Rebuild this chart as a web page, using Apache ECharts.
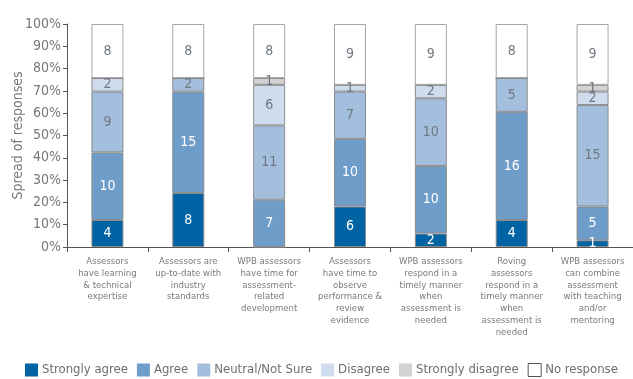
<!DOCTYPE html>
<html>
<head>
<meta charset="utf-8">
<script src="https://cdn.jsdelivr.net/npm/echarts@6/dist/echarts.min.js"></script>
<style>
  html, body { margin: 0; padding: 0; background: #fff; }
  #chart { width: 633px; height: 379px; }
</style>
</head>
<body>
<div id="chart"></div>
<script>
const categories = [
  "Assessors\nhave learning\n& technical\nexpertise",
  "Assessors are\nup-to-date with\nindustry\nstandards",
  "WPB assessors\nhave time for\nassessment-\nrelated\ndevelopment",
  "Assessors\nhave time to\nobserve\nperformance &\nreview\nevidence",
  "WPB assessors\nrespond in a\ntimely manner\nwhen\nassessment is\nneeded",
  "Roving\nassessors\nrespond in a\ntimely manner\nwhen\nassessment is\nneeded",
  "WPB assessors\ncan combine\nassessment\nwith teaching\nand/or\nmentoring"
];
const stronglyAgree = [4, 8, 0, 6, 2, 4, 1];
const agree = [10, 15, 7, 10, 10, 16, 5];
const neutral = [9, 2, 11, 7, 10, 5, 15];
const disagree = [2, 0, 6, 1, 2, 0, 2];
const stronglyDisagree = [0, 0, 1, 0, 0, 0, 1];
const noResponse = [8, 8, 8, 9, 9, 8, 9];
const yTicks = [0, 10, 20, 30, 40, 50, 60, 70, 80, 90, 100];

const font = "'DejaVu Sans Condensed', 'Liberation Sans Narrow', sans-serif";
const groups = [stronglyAgree, agree, neutral, disagree, stronglyDisagree, noResponse];
const totals = categories.map((_, i) => groups.reduce((s, g) => s + g[i], 0));

const makeSeries = (name, counts, color, labelColor, border) => ({
  name: name,
  type: "bar",
  stack: "all",
  barWidth: 32,
  data: counts.map((c, i) => ({ value: c / totals[i] * 100, count: c })),
  itemStyle: { color: color, borderColor: border || "#8c8c8c", borderWidth: 1 },
  label: {
    show: true,
    position: "inside",
    fontFamily: font,
    fontSize: 14,
    color: labelColor,
    formatter: (p) => (p.data.count ? String(p.data.count) : "")
  }
});

const legendNames = ["Strongly agree", "Agree", "Neutral/Not Sure", "Disagree", "Strongly disagree", "No response"];

const chart = echarts.init(document.getElementById("chart"));
chart.setOption({
  animation: false,
  textStyle: { fontFamily: font },
  grid: { left: 67, right: 0, top: 24, bottom: 132, outerBoundsMode: "none" },
  legend: {
    top: 358,
    left: 20,
    right: 0,
    itemWidth: 13,
    itemHeight: 13,
    itemGap: 9,
    icon: "rect",
    data: legendNames.map((n, i) => ({
      name: n,
      itemStyle: i === 5 ? { borderColor: "#555", borderWidth: 1 } : { borderWidth: 0 }
    })),
    textStyle: { fontFamily: font, fontSize: 13, color: "#6e6e6e", padding: [0, 0, 0, -1] }
  },
  xAxis: {
    type: "category",
    data: categories,
    axisLine: { lineStyle: { color: "#555" } },
    axisTick: { show: true, length: 5, lineStyle: { color: "#555" } },
    axisLabel: {
      interval: 0,
      fontSize: 9.5,
      lineHeight: 11.7,
      color: "#7a7a7a",
      margin: 9,
      fontFamily: font
    }
  },
  yAxis: {
    type: "value",
    min: yTicks[0],
    max: yTicks[yTicks.length - 1],
    interval: 10,
    name: "Spread of responses",
    nameLocation: "middle",
    nameGap: 49,
    nameMoveOverlap: false,
    nameTextStyle: { fontSize: 14, color: "#777", fontFamily: font, verticalAlign: "middle" },
    axisLine: { show: true, lineStyle: { color: "#555" } },
    axisTick: { show: true, length: 4, lineStyle: { color: "#555" } },
    splitLine: { show: false },
    axisLabel: { formatter: "{value}%", fontSize: 14, color: "#777", margin: 6, fontFamily: font }
  },
  series: [
    makeSeries("Strongly agree", stronglyAgree, "#0063a3", "#ffffff"),
    makeSeries("Agree", agree, "#6f9dc9", "#ffffff"),
    makeSeries("Neutral/Not Sure", neutral, "#a4bfde", "#6f7780"),
    makeSeries("Disagree", disagree, "#cfdcee", "#6f7780"),
    makeSeries("Strongly disagree", stronglyDisagree, "#d3d3d3", "#6f7780"),
    makeSeries("No response", noResponse, "#ffffff", "#6f7780", "#a6a6a6")
  ]
});
</script>
</body>
</html>
